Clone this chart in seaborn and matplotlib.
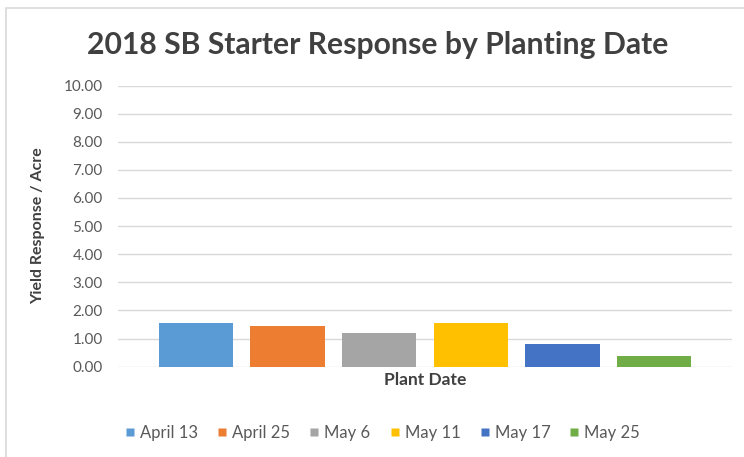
import matplotlib
matplotlib.use("Agg")
import matplotlib.pyplot as plt
from matplotlib.lines import Line2D
from matplotlib.patches import Rectangle
import seaborn as sns
import pandas as pd

# Yield response per planting date
plant_dates = ["April 13", "April 25", "May 6", "May 11", "May 17", "May 25"]
responses = [1.55, 1.46, 1.19, 1.56, 0.80, 0.39]
bar_colors = ["#5B9BD5", "#ED7D31", "#A5A5A5", "#FFC000", "#4472C4", "#70AD47"]
y_ticks = [0, 1, 2, 3, 4, 5, 6, 7, 8, 9, 10]

df = pd.DataFrame({
    "group": ["Plant Date"] * len(plant_dates),
    "date": plant_dates,
    "response": responses,
})

sns.set_theme(style="white")
plt.rcParams["font.family"] = ["Lato", "DejaVu Sans"]

fig = plt.figure(figsize=(7.44, 4.57), dpi=100)
fig.patch.set_facecolor("white")

# chart area border
fig.add_artist(Rectangle((5.5 / 744, -0.05), 1.1, 1 - 8 / 457 + 0.05,
                         transform=fig.transFigure, fill=False,
                         edgecolor="#d9d9d9", linewidth=1.2))

ax = fig.add_axes([118 / 744, 1 - 366.7 / 457, 614 / 744, (366.7 - 85.5) / 457])

sns.barplot(data=df, x="group", y="response", hue="date",
            hue_order=plant_dates, palette=bar_colors,
            width=0.896, gap=0.19, saturation=1, legend=False, ax=ax,
            edgecolor="none", linewidth=0)

ax.set_xlim(-0.5, 0.5)
ax.set_ylim(0, 10)
ax.set_yticks(y_ticks)
ax.set_yticklabels([f"{v:.2f}" for v in y_ticks], color="#595959", fontsize=11)
ax.tick_params(axis="y", length=0, pad=11)
ax.set_xticks([])
ax.set_xlabel("Plant Date", fontsize=12.5, fontweight="bold", color="#404040", labelpad=4)
ax.set_ylabel("Yield Response / Acre", fontsize=11.5, fontweight="bold",
              color="#404040")
ax.yaxis.set_label_coords((45 - 118) / 614, 0.5)
ax.grid(axis="y", color="#d9d9d9", linewidth=1)
ax.set_axisbelow(True)
for s in ax.spines.values():
    s.set_visible(False)

fig.text(378 / 744, 1 - 45 / 457, "2018 SB Starter Response by Planting Date",
         ha="center", va="center", fontsize=21.7, fontweight="bold", color="#404040")

handles = [Line2D([0], [0], marker="s", linestyle="none", markersize=5.5,
                  markerfacecolor=c, markeredgecolor="none") for c in bar_colors]
fig.legend(handles, plant_dates, loc="center", ncol=6,
           bbox_to_anchor=(383 / 744, 1 - 433 / 457), frameon=False,
           fontsize=12, labelcolor="#595959", handlelength=0.5,
           handletextpad=0.35, columnspacing=1.2)

fig.savefig("out.png", dpi=100, facecolor="white")
